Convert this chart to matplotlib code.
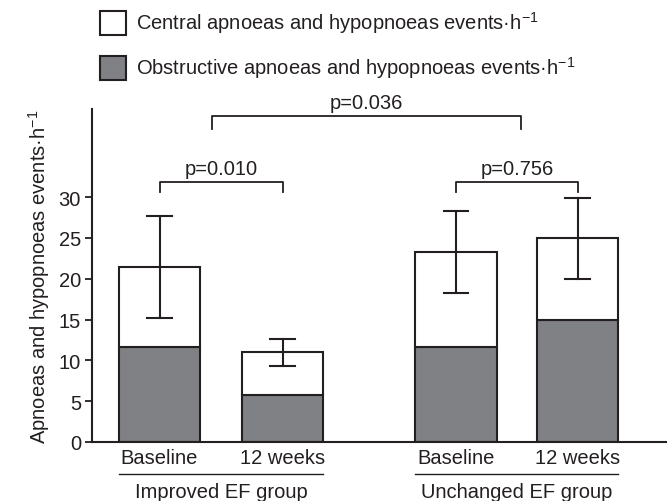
import matplotlib.pyplot as plt
from matplotlib.patches import Rectangle

plt.rcParams["font.family"] = ["Liberation Sans", "DejaVu Sans"]
plt.rcParams["mathtext.fontset"] = "custom"
plt.rcParams["mathtext.rm"] = "Liberation Sans"
plt.rcParams["mathtext.it"] = "Liberation Sans"

# data
timepoints = ["Baseline", "12 weeks", "Baseline", "12 weeks"]
groups = ["Improved EF group", "Unchanged EF group"]
total_events = [21.4, 11.0, 23.3, 25.0]
obstructive_events = [11.6, 5.75, 11.6, 14.9]
err_upper = [27.7, 12.6, 28.3, 29.9]
err_lower = [15.2, 9.3, 18.2, 20.0]
p_values = ["p=0.010", "p=0.756", "p=0.036"]

positions = [0, 1, 2.41, 3.40]
central_events = [t - o for t, o in zip(total_events, obstructive_events)]

edge = "#231f20"
grey = "#808184"
fs = 14.5

fig = plt.figure(figsize=(6.67, 5.02), dpi=100)
ax = fig.add_axes([92 / 667, 59 / 502, 575 / 667, 333 / 502])

bw = 0.66
ax.bar(positions, obstructive_events, width=bw, color=grey, edgecolor=edge, linewidth=1.5, zorder=2)
ax.bar(positions, central_events, bottom=obstructive_events, width=bw, color="white",
       edgecolor=edge, linewidth=1.5, zorder=2)

for x, lo, hi in zip(positions, err_lower, err_upper):
    ax.plot([x, x], [lo, hi], color=edge, lw=1.5, zorder=3)
    ax.plot([x - 0.1, x + 0.1], [hi, hi], color=edge, lw=1.5, zorder=3)
    ax.plot([x - 0.1, x + 0.1], [lo, lo], color=edge, lw=1.5, zorder=3)


def bracket(x1, x2, y, drop, label):
    ax.plot([x1, x1, x2, x2], [y - drop, y, y, y - drop], color=edge, lw=1.3, clip_on=False)
    ax.text((x1 + x2) / 2, y + 0.5, label, ha="center", va="bottom", fontsize=fs, color=edge)


bracket(positions[0], positions[1], 31.8, 1.2, p_values[0])
bracket(positions[2], positions[3], 31.8, 1.2, p_values[1])
bracket((positions[0] + positions[1]) / 2 - 0.07, (positions[2] + positions[3]) / 2 + 0.03, 39.9, 1.6, p_values[2])

ax.set_xlim(-0.549, 4.126)
ax.set_ylim(0, 40.8)
ax.set_yticks([0, 5, 10, 15, 20, 25, 30])
ax.set_xticks([])
ax.tick_params(axis="y", labelsize=fs, length=5, width=1.3, color=edge, labelcolor=edge, pad=3)
for s in ["top", "right"]:
    ax.spines[s].set_visible(False)
for s in ["left", "bottom"]:
    ax.spines[s].set_linewidth(1.5)
    ax.spines[s].set_color(edge)

ax.set_ylabel("Apnoeas and hypopnoeas events·h$^{-1}$", fontsize=14.5, color=edge, labelpad=5)

for x, lab in zip(positions, timepoints):
    ax.text(x, -1.85, lab, ha="center", va="center", fontsize=fs, color=edge, clip_on=False)

for i, g in enumerate(groups):
    a, b = positions[2 * i], positions[2 * i + 1]
    ax.plot([a - bw / 2, b + bw / 2], [-3.9, -3.9], color=edge, lw=1.0, clip_on=False)
    ax.text((a + b) / 2, -6.1, g, ha="center", va="center", fontsize=fs, color=edge, clip_on=False)

# legend
legend_items = [("white", "Central apnoeas and hypopnoeas events·h$^{-1}$"),
                (grey, "Obstructive apnoeas and hypopnoeas events·h$^{-1}$")]
for i, (fc, txt) in enumerate(legend_items):
    ytop = 12 + 45 * i
    fig.add_artist(Rectangle((100 / 667, 1 - (ytop + 24) / 502), 26 / 667, 24 / 502,
                             transform=fig.transFigure, facecolor=fc, edgecolor=edge, lw=1.5))
    fig.text(136 / 667, 1 - (ytop + 11) / 502, txt, ha="left", va="center", fontsize=fs, color=edge)

fig.savefig("out.png", dpi=100)
